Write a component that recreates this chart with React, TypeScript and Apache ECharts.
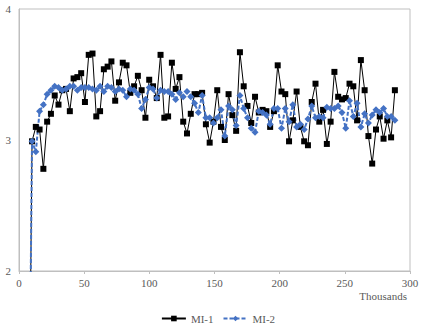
import React, { useEffect, useRef } from "react";
import * as echarts from "echarts";

// x positions (thousands)
const xThousands = [
  7.1, 10, 12.9, 15.8, 18.7, 21.6, 24.5, 27.4, 30.3, 33.2, 36.1, 39, 41.9, 44.8, 47.7, 50.6,
  53.5, 56.4, 59.3, 62.2, 65.1, 68, 70.9, 73.8, 76.7, 79.6, 82.5, 85.4, 88.3, 91.2, 94.1, 97,
  99.9, 102.8, 105.7, 108.6, 111.5, 114.4, 117.3, 120.2, 123.1, 126, 128.9, 131.8, 134.7,
  137.6, 140.5, 143.4, 146.3, 149.2, 152.1, 155, 157.9, 160.8, 163.7, 166.6, 169.5, 172.4,
  175.3, 178.2, 181.1, 184, 186.9, 189.8, 192.7, 195.6, 198.5, 201.4, 204.3, 207.2, 210.1,
  213, 215.9, 218.8, 221.7, 224.6, 227.5, 230.4, 233.3, 236.2, 239.1, 242, 244.9, 247.8,
  250.7, 253.6, 256.5, 259.4, 262.3, 265.2, 268.1, 271, 273.9, 276.8, 279.7, 282.6, 285.5,
  288.4,
];

const mi1 = [
  0,
  2.99, 3.10, 3.08, 2.78, 3.14, 3.20, 3.34, 3.27, 3.38, 3.39,
  3.22, 3.47, 3.48, 3.51, 3.29, 3.65, 3.66, 3.18, 3.22, 3.54,
  3.56, 3.60, 3.30, 3.44, 3.59, 3.57, 3.36, 3.41, 3.49, 3.38,
  3.17, 3.46, 3.41, 3.32, 3.65, 3.17, 3.18, 3.59, 3.39, 3.48,
  3.14, 3.05, 3.20, 3.35, 3.35, 3.36, 3.12, 2.98, 3.14, 3.38,
  3.10, 3.00, 3.35, 3.19, 3.07, 3.67, 3.41, 3.26, 3.13, 3.33,
  3.21, 3.23, 3.22, 3.10, 3.22, 3.57, 3.37, 3.35, 2.99, 3.15,
  3.37, 3.10, 2.99, 2.96, 3.29, 3.43, 3.14, 3.23, 2.97, 3.14,
  3.52, 3.33, 3.31, 3.32, 3.43, 3.41, 3.15, 3.61, 3.38, 3.03,
  2.82, 3.08, 3.18, 3.01, 3.15, 3.02, 3.38,
];

const mi2 = [
  0,
  2.99, 2.91, 3.22, 3.27, 3.35, 3.38, 3.41, 3.40, 3.38, 3.39,
  3.41, 3.41, 3.38, 3.40, 3.40, 3.40, 3.39, 3.38, 3.41, 3.37,
  3.41, 3.40, 3.37, 3.39, 3.38, 3.33, 3.39, 3.38, 3.35, 3.24,
  3.31, 3.40, 3.39, 3.32, 3.38, 3.37, 3.37, 3.35, 3.31, 3.36,
  3.33, 3.37, 3.33, 3.28, 3.21, 3.34, 3.17, 3.17, 3.13, 3.17,
  3.23, 3.03, 3.26, 3.23, 3.11, 3.34, 3.24, 3.17, 3.09, 3.06,
  3.22, 3.21, 3.19, 3.12, 3.24, 3.24, 3.09, 3.24, 3.14, 3.27,
  3.10, 3.12, 3.08, 3.16, 3.26, 3.17, 3.18, 3.17, 3.25, 3.24,
  3.24, 3.26, 3.21, 3.09, 3.30, 3.18, 3.28, 3.10, 3.20, 3.13,
  3.19, 3.23, 3.21, 3.24, 3.18, 3.18, 3.15,
];

const seriesNames = ["MI-1", "MI-2"];
const xAxisTitle = "Thousands";

const FONT = "'Liberation Serif', 'Times New Roman', serif";
const TEXT = "#595959";
const BORDER = "#bfbfbf";
const BLUE = "#4472C4";

export default function App() {
  const ref = useRef<HTMLDivElement>(null);

  useEffect(() => {
    if (!ref.current) return;
    const chart = echarts.init(ref.current, undefined, { renderer: "svg" });
    const d1 = xThousands.map((x, i) => [x, mi1[i]]);
    const d2 = xThousands.map((x, i) => [x, mi2[i]]);
    chart.setOption({
      animation: false,
      backgroundColor: "#ffffff",
      grid: {
        left: 19,
        right: 26,
        top: 9,
        bottom: 63,
        show: true,
        borderColor: BORDER,
        borderWidth: 1,
        backgroundColor: "transparent",
      },
      xAxis: {
        type: "value",
        min: 0,
        max: 300,
        interval: 50,
        axisLine: { show: true, lineStyle: { color: BORDER, width: 1 } },
        axisTick: { show: true, inside: false, length: 3, lineStyle: { color: BORDER } },
        splitLine: { show: false },
        axisLabel: { color: TEXT, fontFamily: FONT, fontSize: 11, margin: 6 },
      },
      yAxis: {
        type: "value",
        min: 2,
        max: 4,
        interval: 1,
        axisLine: { show: true, lineStyle: { color: BORDER, width: 1 } },
        axisTick: { show: false },
        splitLine: { show: false },
        axisLabel: { color: TEXT, fontFamily: FONT, fontSize: 11, margin: 8 },
      },
      legend: {
        data: seriesNames,
        bottom: 5,
        left: "center",
        itemWidth: 24,
        itemHeight: 7,
        itemGap: 9,
        textStyle: { color: TEXT, fontFamily: FONT, fontSize: 11 },
      },
      graphic: [
        {
          type: "text",
          right: 29,
          top: 290,
          style: {
            text: xAxisTitle,
            fill: TEXT,
            font: `11px ${FONT}`,
          },
        },
      ],
      series: [
        {
          name: seriesNames[0],
          type: "line",
          data: d1,
          clip: true,
          symbol: "rect",
          symbolSize: 6,
          showAllSymbol: true,
          itemStyle: { color: "#000000" },
          lineStyle: { color: "#000000", width: 1 },
        },
        {
          name: seriesNames[1],
          type: "line",
          data: d2,
          clip: true,
          symbol: "diamond",
          symbolSize: 7,
          showAllSymbol: true,
          itemStyle: { color: BLUE },
          lineStyle: { color: BLUE, width: 2, type: [4, 2] },
        },
      ],
    });
    return () => chart.dispose();
  }, []);

  return (
    <div
      ref={ref}
      style={{ position: "absolute", left: 0, top: 0, width: 436, height: 334, background: "#fff" }}
    />
  );
}
